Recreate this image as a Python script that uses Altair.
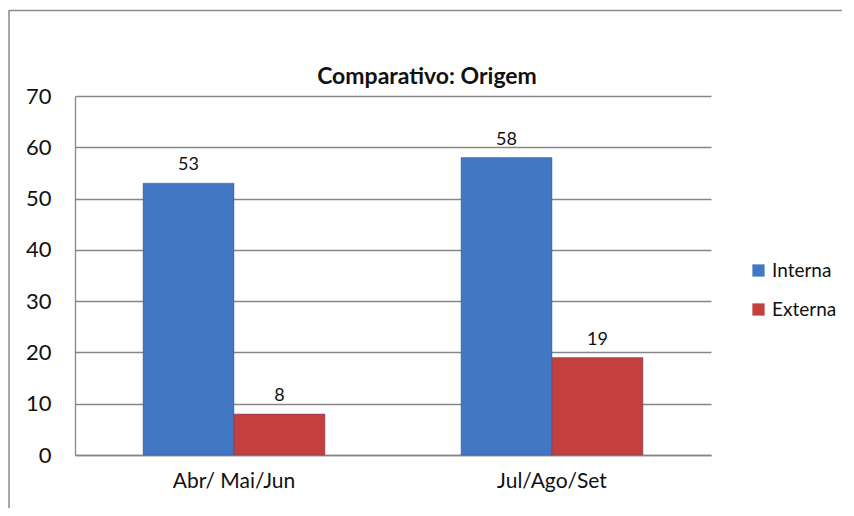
import altair as alt
import pandas as pd

periods = ["Abr/ Mai/Jun", "Jul/Ago/Set"]
series = ["Interna", "Externa"]
interna = [53, 58]
externa = [8, 19]
colors = ["#4277c4", "#c4403f"]
y_ticks = [0, 10, 20, 30, 40, 50, 60, 70]
title_text = ["Comparativo: Origem"]

rows = []
for i, p in enumerate(periods):
    rows.append({"periodo": p, "origem": "Interna", "valor": interna[i]})
    rows.append({"periodo": p, "origem": "Externa", "valor": externa[i]})
df = pd.DataFrame(rows)

FONT = "Lato"
GRID = "#868686"

x_enc = alt.X("periodo:N", sort=periods, title=None,
              scale=alt.Scale(paddingInner=0.428, paddingOuter=0.214),
              axis=alt.Axis(labelAngle=0, labelFontSize=21, labelFont=FONT, labelColor="#111111",
                            ticks=False, domainColor=GRID, domainWidth=1.3, labelPadding=15))
xoff = alt.XOffset("origem:N", sort=series, scale=alt.Scale(paddingInner=0, paddingOuter=0))
y_enc = alt.Y("valor:Q", title=None, scale=alt.Scale(domain=[0, 70]),
              axis=alt.Axis(values=y_ticks, labelFontSize=22, labelFont=FONT, labelColor="#111111",
                            ticks=False, domainColor=GRID, domainWidth=1.3, labelPadding=24,
                            gridColor=GRID, gridWidth=1.3, gridOpacity=1))

bars = alt.Chart(df).mark_bar(stroke="#2a4f85", strokeWidth=0.4).encode(
    x=x_enc, xOffset=xoff, y=y_enc,
    color=alt.Color("origem:N", sort=series,
                    scale=alt.Scale(domain=series, range=colors),
                    legend=alt.Legend(title=None, orient="none", legendX=674, legendY=165,
                                      symbolType="square", symbolSize=150, symbolStrokeWidth=0,
                                      labelFontSize=19, labelFont=FONT, labelColor="#111111",
                                      rowPadding=19, labelOffset=4, padding=0)),
)

labels = alt.Chart(df).mark_text(dy=-18, fontSize=18, font=FONT, color="#111111").encode(
    x=alt.X("periodo:N", sort=periods), xOffset=xoff, y="valor:Q", text="valor:Q"
)

title_df = pd.DataFrame({"t": title_text})
title = alt.Chart(title_df).mark_text(fontSize=23, fontWeight="bold", font=FONT, color="#111111",
                                      align="center", baseline="alphabetic").encode(
    x=alt.value(352), y=alt.value(-12), text="t:N"
)

border_df = pd.DataFrame([{"k": 1}])
top_line = alt.Chart(border_df).mark_rule(color="#8a8a8a", strokeWidth=1.5).encode(
    x=alt.value(-66), x2=alt.value(780), y=alt.value(-85.5)
)
left_line = alt.Chart(border_df).mark_rule(color="#8a8a8a", strokeWidth=1.5).encode(
    x=alt.value(-66), y=alt.value(-86), y2=alt.value(412)
)

chart = alt.layer(top_line, left_line, bars, labels, title).properties(
    width=636, height=359,
    autosize=alt.AutoSizeParams(type="none"),
    padding={"left": 67, "top": 88, "right": 131, "bottom": 53},
).configure_view(stroke=None).configure_axis(grid=False).configure_axisY(grid=True)

chart.save("out.html", embed_options={"renderer": "svg", "actions": False})
